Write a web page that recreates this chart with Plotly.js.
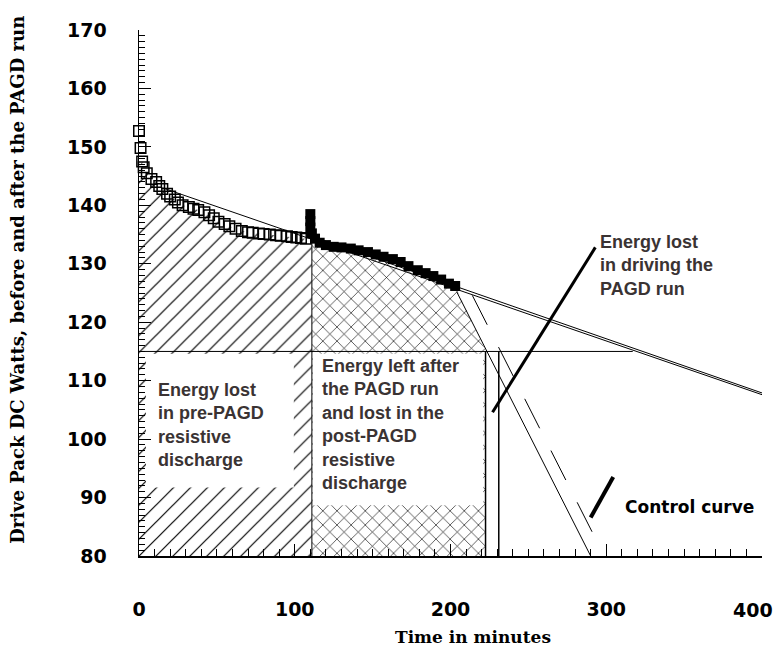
<!DOCTYPE html>
<html>
<head>
<meta charset="utf-8">
<script src="https://cdn.plot.ly/plotly-3.0.1.min.js"></script>
<style>html,body{margin:0;padding:0;background:#fff;}#chart{width:777px;height:651px;}</style>
</head>
<body>
<div id="chart"></div>
<script>
// ---- data ----
// pre-PAGD resistive discharge (open squares)
const preT = [0, 1, 2, 3, 5, 8, 11, 13, 15, 18, 20, 23, 25, 28, 32, 35, 38, 42, 45, 48, 51, 55, 58, 62, 66, 70, 73, 77, 80, 84, 88, 91, 95, 98, 101, 104, 107];
const preW = [152.7, 149.8, 147.5, 146.5, 145.5, 144.5, 144.0, 143.3, 142.8, 142.0, 141.5, 141.0, 140.5, 140.0, 139.7, 139.4, 139.2, 138.8, 138.3, 137.8, 137.2, 136.8, 136.4, 136.0, 135.6, 135.4, 135.3, 135.2, 135.1, 135.0, 134.9, 134.8, 134.7, 134.6, 134.5, 134.4, 134.3];
// post-PAGD discharge (filled squares)
const pagdT = [110, 110, 110, 111, 113, 116, 120, 125, 130, 136, 141, 147, 152, 157, 163, 168, 173, 179, 184, 189, 194, 199, 203];
const pagdW = [138.5, 137.3, 136.2, 135.2, 134.3, 133.6, 133.2, 132.9, 132.8, 132.6, 132.3, 132.0, 131.6, 131.2, 130.8, 130.3, 129.6, 128.9, 128.4, 127.9, 127.3, 126.6, 126.2];
// fitted / guide lines
const fitAT = [15, 400],  fitAW = [143.0, 107.6];
const fitBT = [111, 400], fitBW = [134.7, 107.9];
const dropT = [204, 290], dropW = [125.2, 80];
const controlDropT = [214, 298], controlDropW = [124.6, 80.4];
const levelT = [0, 317], levelW = [115, 115];
const pagdStartT = 111, pagdStartTopW = 134.3;
const cutoffT = [222.5, 231];
const axisMinW = 80;
const preFillTopW0 = 146;
const dropAtLevelW = 115.2;
// pointer strokes
const drivePtrT = [227, 293], drivePtrW = [104.6, 132.8];
const controlPtrT = [290, 304.5], controlPtrW = [86.6, 93.5];
// tick values
const xTicks = [0, 100, 200, 300, 400];
const yTicks = [80, 90, 100, 110, 120, 130, 140, 150, 160, 170];

const TXT = '#3a3333';
const BOLDSANS = 'Liberation Sans, Arial, sans-serif';
const CHICAGO = 'DejaVu Sans, sans-serif';
const SERIF = 'DejaVu Serif, serif';

function seg(xs, ys, opts) {
  return Object.assign({x: xs, y: ys, mode: 'lines', hoverinfo: 'skip',
    line: {color: '#000', width: 1}}, opts || {});
}

const traces = [];

// hatched pre-PAGD region
const preFillX = [0, 0].concat(preT.slice(2), [pagdStartT, pagdStartT]);
const preFillY = [axisMinW, preFillTopW0].concat(preW.slice(2), [pagdStartTopW, axisMinW]);
traces.push({x: preFillX, y: preFillY, mode: 'lines', fill: 'toself', hoverinfo: 'skip',
  line: {width: 0, color: 'rgba(0,0,0,0)'}, fillcolor: '#fff',
  fillpattern: {shape: '/', size: 12, solidity: 0.1, fgcolor: '#000', bgcolor: '#fff'}});

// cross-hatched post-PAGD region
const postFillX = [pagdStartT].concat(pagdT.slice(3), [cutoffT[0], cutoffT[0], pagdStartT]);
const postFillY = [axisMinW].concat(pagdW.slice(3), [dropAtLevelW, axisMinW, axisMinW]);
traces.push({x: postFillX, y: postFillY, mode: 'lines', fill: 'toself', hoverinfo: 'skip',
  line: {width: 0, color: 'rgba(0,0,0,0)'}, fillcolor: '#fff',
  fillpattern: {shape: 'x', size: 10, solidity: 0.12, fgcolor: '#000', bgcolor: '#fff'}});

// white label boxes
function box(x0, x1, y0, y1) {
  return {x: [x0, x1, x1, x0, x0], y: [y0, y0, y1, y1, y0], mode: 'lines', fill: 'toself',
    fillcolor: '#fff', line: {width: 0, color: 'rgba(0,0,0,0)'}, hoverinfo: 'skip'};
}
traces.push(box(4.5, 99.4, 91.7, 114.6));
traces.push(box(111.7, 221.0, 88.7, 114.6));

// guide lines
traces.push(seg(levelT, levelW));
traces.push(seg([pagdStartT, pagdStartT], [axisMinW, pagdStartTopW]));
traces.push(seg([cutoffT[0], cutoffT[0]], [axisMinW, levelW[0]], {line: {color: '#000', width: 1.5}}));
traces.push(seg([cutoffT[1], cutoffT[1]], [axisMinW, levelW[0]], {line: {color: '#000', width: 1.5}}));
traces.push(seg(fitAT, fitAW));
traces.push(seg(fitBT, fitBW));
traces.push(seg(dropT, dropW));
traces.push(seg(controlDropT, controlDropW, {line: {color: '#000', width: 1, dash: '33px,25px'}}));

// data markers
traces.push({x: preT, y: preW, mode: 'markers', hoverinfo: 'skip', cliponaxis: false,
  marker: {symbol: 'square-open', size: 10.5, color: '#000', line: {width: 1.5, color: '#000'}}});
traces.push({x: pagdT, y: pagdW, mode: 'markers', hoverinfo: 'skip', cliponaxis: false,
  marker: {symbol: 'square', size: 10, color: '#000', line: {width: 0}}});

// pointers
traces.push(seg(drivePtrT, drivePtrW, {line: {color: '#000', width: 3}}));
traces.push(seg(controlPtrT, controlPtrW, {line: {color: '#000', width: 4}}));

const tickFont = {family: CHICAGO, size: 19, color: '#000', weight: 'bold'};
const lastX = xTicks[xTicks.length - 1];
const annFont = {family: BOLDSANS, size: 18, color: TXT, weight: 'bold'};
const layout = {
  width: 777, height: 651,
  margin: {l: 139, r: 15, t: 30, b: 95, pad: 0},
  paper_bgcolor: '#fff', plot_bgcolor: '#fff',
  showlegend: false,
  xaxis: {
    range: [0, 400], tickvals: xTicks,
    ticktext: xTicks.map(v => v === lastX ? '' : String(v)),
    showline: true, linecolor: '#000', linewidth: 1.5, mirror: false,
    ticks: 'inside', ticklen: 12, tickwidth: 1.2, tickcolor: '#000',
    minor: {dtick: 10, ticks: 'inside', ticklen: 7, tickwidth: 1, tickcolor: '#000', showgrid: false},
    showgrid: false, zeroline: false, ticklabelstandoff: 36,
    tickfont: tickFont
  },
  yaxis: {
    range: [80, 170], tickvals: yTicks, ticktext: yTicks.map(String),
    showline: true, linecolor: '#000', linewidth: 1.5, mirror: false,
    ticks: 'inside', ticklen: 12, tickwidth: 1.2, tickcolor: '#000',
    minor: {dtick: 1, ticks: 'inside', ticklen: 6, tickwidth: 1, tickcolor: '#000', showgrid: false},
    showgrid: false, zeroline: false, ticklabelstandoff: 27, ticklabeloverflow: 'allow',
    tickfont: tickFont
  },
  annotations: [
    // last x tick label, kept inside the page edge
    {xref: 'x', yref: 'paper', x: lastX, y: 0, xanchor: 'right', yanchor: 'middle', xshift: 13, yshift: -54,
     showarrow: false, text: String(lastX), font: tickFont},
    {xref: 'paper', yref: 'paper', x: 0, y: 0.525, xanchor: 'center', yanchor: 'middle', xshift: -121,
     textangle: -90, showarrow: false,
     text: 'Drive Pack DC Watts, before and after the PAGD run',
     font: {family: SERIF, size: 18, color: '#000', weight: 'bold'}},
    {xref: 'paper', yref: 'paper', x: 0.5, y: 0, xanchor: 'center', yanchor: 'middle', xshift: 22, yshift: -81,
     showarrow: false, text: 'Time in minutes',
     font: {family: SERIF, size: 17, color: '#000', weight: 'bold'}},
    {x: 294.6, y: 129.7, xanchor: 'left', yanchor: 'middle', align: 'left', showarrow: false,
     text: 'Energy lost<br>in driving the<br>PAGD run', font: annFont},
    {x: 310.6, y: 88.4, xanchor: 'left', yanchor: 'middle', align: 'left', showarrow: false,
     text: 'Control curve', font: {family: CHICAGO, size: 17, color: '#000', weight: 'bold'}},
    {x: 10.6, y: 102.5, xanchor: 'left', yanchor: 'middle', align: 'left', showarrow: false,
     text: 'Energy lost<br>in pre-PAGD<br>resistive<br>discharge', font: annFont},
    {x: 116.2, y: 102.5, xanchor: 'left', yanchor: 'middle', align: 'left', showarrow: false,
     text: 'Energy left after<br>the PAGD run<br>and lost in the<br>post-PAGD<br>resistive<br>discharge', font: annFont}
  ]
};

Plotly.newPlot('chart', traces, layout, {staticPlot: true, displayModeBar: false});
</script>
</body>
</html>
